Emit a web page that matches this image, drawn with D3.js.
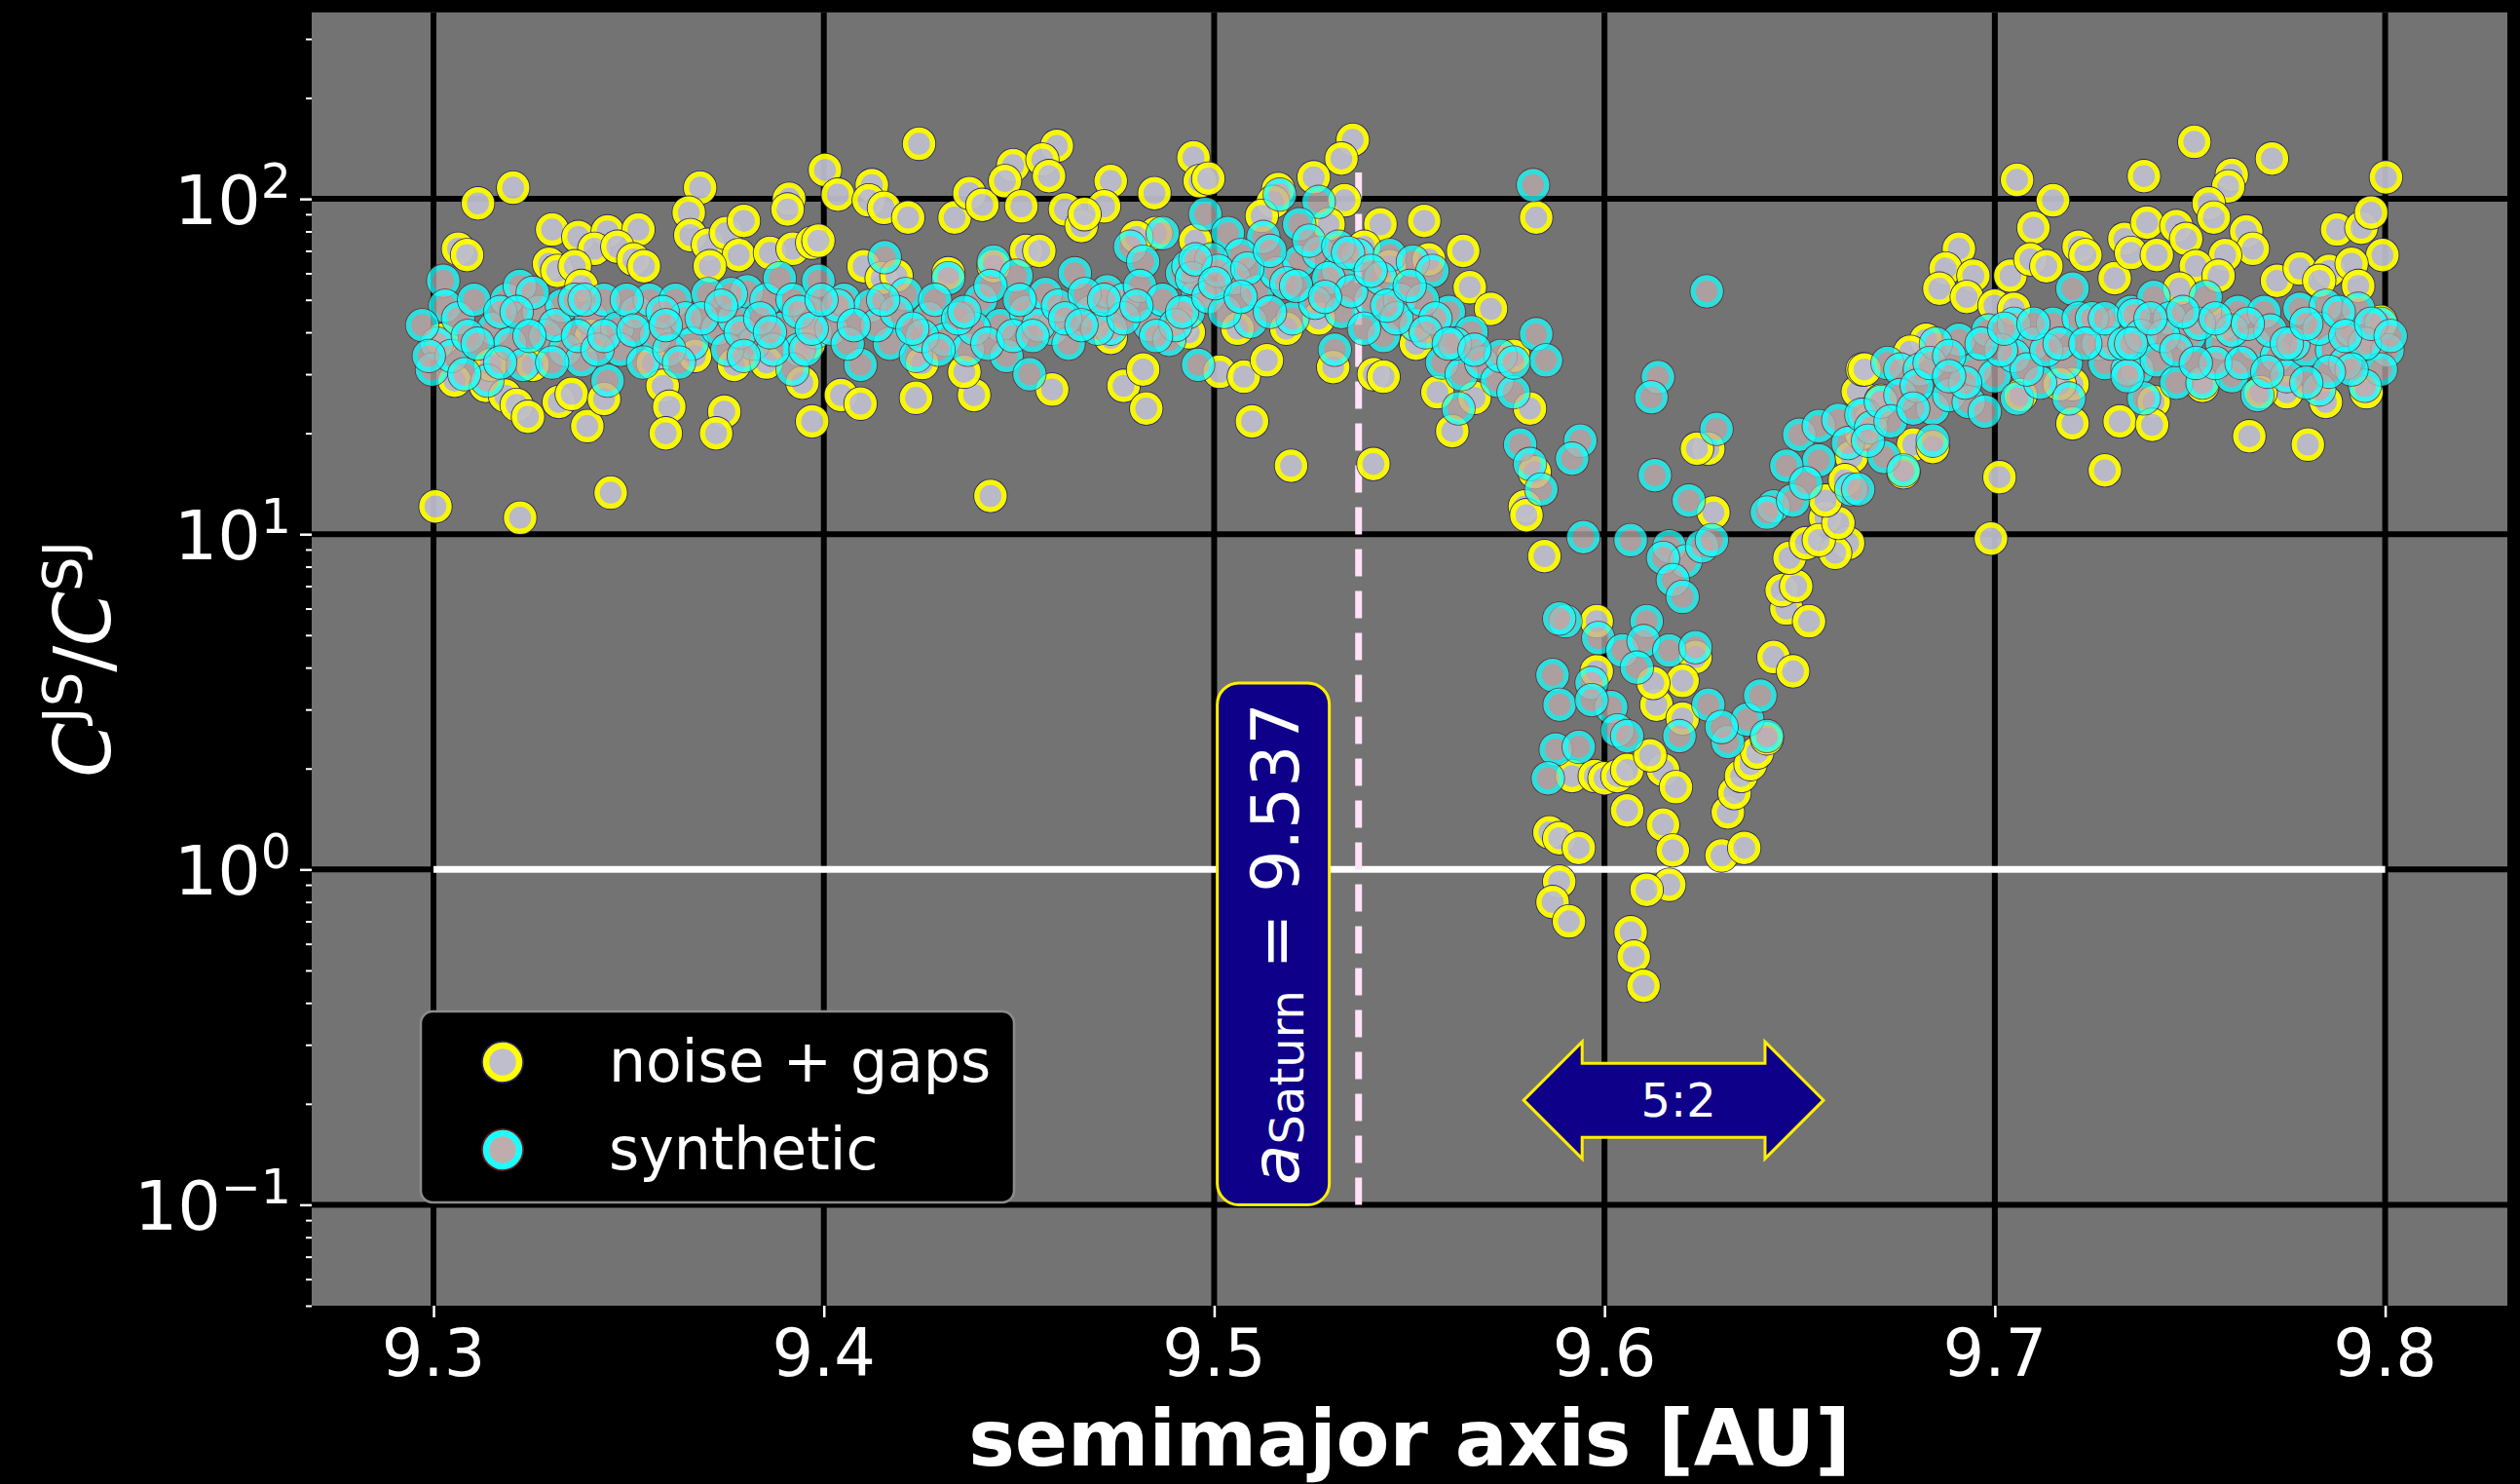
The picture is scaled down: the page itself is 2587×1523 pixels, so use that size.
<!DOCTYPE html>
<html>
<head>
<meta charset="utf-8">
<script src="https://cdn.jsdelivr.net/npm/d3@7"></script>
<style>
  html, body { margin: 0; padding: 0; background: #000; }
  svg { display: block; }
  text { font-family: "DejaVu Sans", sans-serif; fill: #fff; }
</style>
</head>
<body>
<svg id="chart" width="2587" height="1523"></svg>
<script>
// ---- data: [semimajor axis (AU), C_JS / C_SJ] ----
const noiseGapsInner = [
  [9.3204,108],[9.3114,97],[9.3063,71],[9.3086,68],[9.3304,81],[9.3371,77],[9.3446,80],[9.3525,81],[9.3412,71],[9.3471,72],
  [9.3296,64],[9.3317,61],[9.3362,63],[9.3379,55],[9.3512,66],[9.3539,63],[9.3683,108],[9.3654,91],[9.3658,78],[9.3703,73],
  [9.3749,79],[9.3795,86],[9.3782,68],[9.3708,63],[9.3911,100],[9.3907,93],[9.3862,69],[9.392,71],[9.397,74],[9.3054,28.7],
  [9.3134,27.7],[9.3183,25.9],[9.3213,24.3],[9.3242,22.4],[9.3321,24.8],[9.3354,26.2],[9.3394,21],[9.3437,25.3],[9.3562,32.4],[9.3587,27.7],
  [9.3604,24],[9.3595,20],[9.3745,23.2],[9.3724,20],[9.3945,28.3],[9.397,21.7],[9.3005,12.1],[9.3222,11.2],[9.3454,13.3],[9.3021,38],
  [9.3146,32],[9.3254,32],[9.3404,39],[9.377,32],[9.3853,32.5],[9.367,34],[9.3961,37],
  [9.4244,146],[9.4003,122],[9.4036,103],[9.4123,110],[9.4115,99],[9.4154,94],[9.4216,88],[9.3986,75],[9.4102,63],[9.4148,58],
  [9.4335,88],[9.4373,104],[9.4406,96],[9.4485,126],[9.4464,113],[9.4506,95],[9.4597,144],[9.456,131],[9.4577,117],[9.4735,113],
  [9.4718,95],[9.4618,93],[9.466,83],[9.4668,90],[9.4847,104],[9.4947,133],[9.4963,113],[9.4518,70],[9.4552,70],[9.4851,79],
  [9.4801,77],[9.4918,42],[9.4044,26],[9.4094,24.5],[9.4236,25.5],[9.4385,26],[9.436,30.5],[9.4585,27],[9.4768,27.7],[9.4818,31],
  [9.4826,23.7],[9.4427,13],[9.4252,32.4],[9.4319,60],[9.4186,59],[9.4735,38.5],[9.4435,63],
  [9.4985,115],[9.5355,150],[9.5326,132],[9.5255,116],[9.5164,107],[9.5151,98],[9.5334,99],[9.5122,89],[9.5293,84],[9.5426,84],
  [9.5538,86],[9.5638,70],[9.5825,88],[9.5384,72],[9.545,63],[9.555,66],[9.5655,54.5],[9.5709,47],[9.5767,34],[9.5809,23.7],
  [9.5821,15.3],[9.5796,12.1],[9.5846,8.6],[9.4952,75],[9.4935,40],[9.5014,30.5],[9.5076,29.5],[9.5135,33],[9.5097,21.7],[9.5197,16],
  [9.5305,31.5],[9.5409,30],[9.5434,29.5],[9.5408,16.2],[9.5572,26.5],[9.561,20.3],[9.506,41],[9.5185,41],[9.5268,44],[9.5517,37],
  [9.5667,25.5]
];
const noiseGapsResonance = [
  [9.58,11.4],[9.598,5.5],[9.598,3.9],[9.6266,18],[9.6279,11.6],[9.6233,4.3],[9.62,3.65],[9.6133,3.1],[9.62,2.82],[9.615,1.98],
  [9.6183,1.76],[9.6058,1.5],[9.615,1.36],[9.6175,1.14],[9.6166,0.9],[9.6108,0.87],[9.6067,0.65],[9.6075,0.55],[9.61,0.45],[9.5859,1.29],
  [9.5884,1.24],[9.5934,1.16],[9.5884,0.92],[9.5867,0.8],[9.5909,0.7],[9.5917,1.9],[9.5975,1.9],[9.6,1.87],[9.6033,1.9],[9.6058,1.98],
  [9.6117,2.19],[9.6125,3.6],[9.63,1.1],[9.6358,1.16],[9.6316,1.48],[9.6333,1.69],[9.635,1.9],[9.6374,2.06],[9.6391,2.23],[9.6416,2.46],
  [9.6433,4.3],[9.6483,3.9],[9.6466,6],[9.6524,5.5],[9.6454,6.8],[9.6491,7],[9.6474,8.5],[9.6516,9.4],[9.6566,11.2],[9.6624,9.4],
  [9.6591,8.8],[9.6549,9.6],[9.6649,26.6],[9.6661,31],[9.6599,10.8],[9.6566,12.6],[9.6237,18],[9.6633,17],[9.6616,14.5],[9.6683,22],
  [9.6708,25],[9.6658,20]
];
const noiseGapsOuter = [
  [9.7057,114],[9.7149,99],[9.7099,82],[9.6908,71],[9.6874,62],[9.6945,59],[9.6858,54],[9.6928,51],[9.6999,48],[9.704,59],
  [9.7049,47],[9.7091,66],[9.7132,63],[9.7215,72],[9.7232,68],[9.7307,58],[9.7332,76],[9.6824,38],[9.6783,35],[9.6666,31],
  [9.7199,28],[9.7199,21.4],[9.732,21.7],[9.7012,14.8],[9.7282,15.5],[9.699,9.7],[9.6791,18.5],[9.6841,18.2],[9.6766,15.3],[9.7066,26],
  [9.7166,28],
  [9.7511,148],[9.7382,117],[9.771,132],[9.7607,118],[9.7598,109],[9.8002,116],[9.7548,97],[9.7561,88],[9.739,85],[9.7465,83],
  [9.749,76],[9.7644,80],[9.7661,71],[9.759,68],[9.7877,81],[9.7939,82],[9.7964,91],[9.7993,68],[9.7349,69],[9.7415,68],
  [9.7515,63],[9.7573,59],[9.7473,54],[9.7723,57],[9.7781,62],[9.7856,61],[9.7914,64],[9.7931,55],[9.7831,57],[9.7989,43],
  [9.7407,24.8],[9.7403,21.2],[9.7652,19.6],[9.7802,18.5],[9.7848,24.8],[9.7952,26.5],[9.7532,27.7],[9.7748,26.5],[9.7681,26.5],[9.7582,42.4]
];

const syntheticInner = [
  [9.3025,57],[9.303,48],[9.3009,37],[9.2996,31],[9.3046,34],[9.3063,44],[9.3104,50],[9.3138,28.7],[9.3154,41],[9.3188,50],
  [9.3221,55],[9.3196,37],[9.3229,32],[9.327,46],[9.3287,39],[9.3329,48],[9.3337,35.5],[9.3379,33],[9.3404,44],[9.3437,50],
  [9.3471,41],[9.3446,28.7],[9.3479,35.5],[9.352,46],[9.3554,50],[9.357,39],[9.362,50],[9.3645,44],[9.3662,37],[9.3703,52],
  [9.3728,41],[9.377,44],[9.3803,53],[9.382,37],[9.3853,50],[9.3887,58],[9.3895,41],[9.3936,35.5],[9.3961,46],[9.392,31],
  [9.3088,39],[9.3312,42],[9.337,39],[9.3587,46],[9.3753,35.5],[9.3787,40],
  [9.3079,30],[9.3171,46],[9.3254,52.5],[9.3304,32.5],[9.3362,50],[9.342,35.5],[9.3495,50],[9.3537,32.5],[9.3604,35.5],[9.3687,44],
  [9.3762,52],[9.3837,44],[9.387,35.5],[9.392,50],[9.3978,40],
  [9.2971,42],[9.3113,37],[9.3213,46],[9.3246,39],[9.3387,50],[9.3437,39],[9.3512,40.5],[9.3595,42],[9.3629,32.5],[9.3737,48],
  [9.3795,34],[9.3862,40],[9.3936,46],[9.2988,34],[9.3171,32.5],
  [9.4156,67],[9.3986,57],[9.3953,35.5],[9.4019,41],[9.4052,50],[9.4094,32],[9.4061,37],[9.4119,48],[9.4169,37],[9.421,52],
  [9.4236,34],[9.4269,44],[9.4319,58],[9.431,38],[9.4369,35.5],[9.4402,50],[9.4435,65],[9.4452,42],[9.4468,34],[9.4518,46],
  [9.4493,59],[9.4527,30],[9.4568,52],[9.4585,41],[9.4627,37],[9.4643,60],[9.4685,46],[9.4726,53],[9.4768,50],[9.4785,72],
  [9.4818,65],[9.4868,79],[9.4835,42],[9.4885,38],[9.4918,60],[9.4959,52],[9.4959,32],[9.4934,46],[9.4735,41],[9.4385,41],
  [9.3969,41],[9.4036,48],[9.4136,42],[9.4186,46],[9.4252,39],[9.4285,50],[9.4344,44],[9.4419,37],[9.4485,39],[9.455,42],
  [9.46,48],[9.4668,52],[9.4701,41],[9.4768,44],[9.481,55],[9.4868,50],[9.4901,42],[9.4934,63],
  [9.3994,50],[9.4077,42],[9.4152,50],[9.4227,41],[9.4294,35.5],[9.436,46],[9.4427,55],[9.4502,50],[9.4535,39],[9.4618,44],
  [9.466,42],[9.4718,50],[9.4801,48],[9.4851,39],[9.4918,46],[9.4959,65],
  [9.4977,90],[9.5168,103],[9.5268,98],[9.5218,84],[9.5126,77],[9.5035,79],[9.5068,68],[9.4993,66],[9.4943,58],[9.4985,51],
  [9.5051,58],[9.511,53],[9.516,60],[9.5218,65],[9.5268,69],[9.5318,61],[9.5368,68],[9.5293,58],[9.5201,44],[9.5093,43],
  [9.5027,46],[9.5259,49],[9.5326,46],[9.5401,50],[9.545,68],[9.5509,65],[9.5559,61],[9.5476,50],[9.5434,39],[9.5517,42],
  [9.5601,46],[9.5659,40],[9.5584,32.5],[9.5634,30],[9.5684,32.5],[9.5725,28.7],[9.5767,26.5],[9.5825,39.5],[9.585,33],[9.5784,18.5],
  [9.5809,16.2],[9.5838,13.6],[9.5309,35.5],[9.5626,23.7],[9.5384,41],
  [9.501,61],[9.5085,62],[9.5143,70],[9.5185,56],[9.5243,75],[9.5318,72],[9.5351,53],[9.5426,58],[9.5467,44],[9.5534,50],
  [9.5567,44],[9.5617,37],[9.5734,34],[9.5767,32.5],
  [9.4952,66],[9.5002,56],[9.5068,51],[9.5143,46],[9.521,55],[9.5284,51],[9.5343,69],[9.5401,61],[9.5443,48],[9.5501,55],
  [9.5542,40],[9.5601,37],[9.5667,35.5]
];
const syntheticResonance = [
  [9.5817,110],[9.5938,19],[9.5917,16.8],[9.5946,9.8],
  [9.6067,9.6],[9.6262,53],[9.6137,29.4],[9.612,25.6],[9.6287,20.6],[9.6129,15],[9.6216,12.6],[9.6166,9.2],[9.6208,8.3],[9.625,9.2],
  [9.6275,9.6],[9.615,8.5],[9.6175,7.3],[9.62,6.5],[9.59,5.5],[9.5884,5.6],[9.6108,5.5],[9.5984,4.9],[9.6046,4.5],[9.61,4.8],
  [9.6166,4.5],[9.6233,4.6],[9.5867,3.8],[9.5967,3.6],[9.6083,4],[9.6017,3.05],[9.5885,3.1],[9.5967,3.2],[9.6033,2.6],[9.5875,2.28],
  [9.5934,2.32],[9.6058,2.5],[9.5855,1.87],[9.6192,2.5],[9.6266,3.1],[9.6316,2.4],[9.6366,2.8],[9.6399,3.3],[9.6416,2.5],[9.63,2.66],
  [9.6499,19.8],[9.6549,21],[9.6549,16.6],[9.6466,16],[9.6433,12.1],[9.6416,11.6],[9.6483,12.6],[9.6599,21.9],[9.6632,13.6],[9.6666,22.7],
  [9.6624,18.7],[9.6516,14.2]
];
const syntheticOuter = [
  [9.6725,32.4],[9.6758,31],[9.6808,31],[9.6908,38],[9.6983,40.5],[9.7049,42.4],[9.7099,37],[9.7149,42.4],[9.7199,54],[9.7215,44],
  [9.7265,37],[9.7315,42.4],[9.7348,46],[9.7365,31],[9.6658,22.7],[9.6683,20.8],[9.6716,17],[9.6766,15.5],[9.665,13.6],[9.6708,24.8],
  [9.6758,26],[9.6841,23.7],[9.6883,26],[9.6933,24.8],[9.6974,23.2],[9.6949,31],[9.6999,29.6],[9.7049,34],[9.7057,25.4],[9.7116,28.3],
  [9.7182,32.4],[9.719,25.4],[9.7282,32.4],[9.734,31],[9.6849,37],[9.68,27.7],[9.6675,19],[9.6841,19],
  [9.7082,31],[9.7132,35.4],[9.7249,44],[9.7299,37],[9.7016,35.4],[9.6924,28.3],
  [9.6833,32.4],[9.6883,34],[9.6966,37],[9.7024,41],[9.7099,42.4],[9.7166,37],[9.7232,37],[9.7282,44],[9.7332,37],[9.6883,29.6],
  [9.6733,21.7],[9.6791,23.7],
  [9.7407,51],[9.754,51],[9.7357,45],[9.7448,44],[9.7498,39],[9.7374,39],[9.7415,33],[9.7465,28.3],[9.7382,25.4],[9.7532,28.3],
  [9.7607,29.6],[9.7582,37],[9.7623,46],[9.7665,37],[9.769,46],[9.7723,34],[9.7673,26],[9.7748,29.6],[9.7781,47],[9.7798,35.4],
  [9.7831,27],[9.7848,48],[9.7864,35.4],[9.7914,40.5],[9.7931,47],[9.7964,37],[9.7989,42.4],[9.8006,35.4],[9.7989,31],[9.7948,27.7],
  [9.7898,32.4],[9.734,29.6],[9.7523,42.4],[9.7607,40.5],
  [9.7432,39],[9.7482,46],[9.7565,32.4],[9.7632,32.4],[9.7706,40.5],[9.7765,37],[9.7831,41],[9.7881,46],[9.7948,37],[9.7914,31],
  [9.7349,37],[9.7399,44],[9.7465,35.4],[9.7515,32.4],[9.7565,44],[9.7648,42.4],[9.7698,30.5],[9.7748,37],[9.7798,42.4],[9.7856,30.5],
  [9.7898,39],[9.7964,42.4],[9.8014,39],[9.7798,28.3]
];

const xTicks = [9.3, 9.4, 9.5, 9.6, 9.7, 9.8];
const xTickLabels = ["9.3", "9.4", "9.5", "9.6", "9.7", "9.8"];
const yTicks = [0.1, 1, 10, 100];
const yTickExponents = ["\u22121", "0", "1", "2"];
const seriesNames = ["noise + gaps", "synthetic"];
const aSaturn = 9.537;
const resonanceSpan = [9.5793, 9.6561];
const resonanceLabel = "5:2";

// ---- layout ----
const W = 2587, H = 1523;
const plot = { left: 320, right: 2574, top: 12.7, bottom: 1340 };

const svg = d3.select("#chart");
svg.append("rect").attr("width", W).attr("height", H).attr("fill", "#000");

const x = d3.scaleLinear().domain([9.2688, 9.8313]).range([plot.left, plot.right]);
const y = d3.scaleLog().domain([0.05, 360]).range([plot.bottom, plot.top]);

// plot background
svg.append("rect")
  .attr("x", plot.left).attr("y", plot.top)
  .attr("width", plot.right - plot.left).attr("height", plot.bottom - plot.top)
  .attr("fill", "#737373");

// grid
const grid = svg.append("g");
grid.selectAll("line.gx").data(xTicks).join("line")
  .attr("x1", d => x(d)).attr("x2", d => x(d))
  .attr("y1", plot.top).attr("y2", plot.bottom)
  .attr("stroke", "#000").attr("stroke-width", 6);
grid.selectAll("line.gy").data(yTicks).join("line")
  .attr("x1", plot.left).attr("x2", plot.right)
  .attr("y1", d => y(d)).attr("y2", d => y(d))
  .attr("stroke", "#000").attr("stroke-width", 6);

// axes (tick marks; labels drawn separately)
const xAxis = d3.axisBottom(x).tickValues(xTicks).tickSize(12).tickFormat("");
const gx = svg.append("g").attr("transform", `translate(0,${plot.bottom})`).call(xAxis);
gx.select(".domain").remove();
gx.selectAll(".tick line").attr("stroke", "#fff").attr("stroke-width", 2.5);

const yMinor = [];
for (let e = -2; e <= 2; e++) for (let m = 2; m <= 9; m++) {
  const v = m * Math.pow(10, e);
  if (v >= 0.05 && v <= 360) yMinor.push(v);
}
const gyMinor = svg.append("g").attr("transform", `translate(${plot.left},0)`)
  .call(d3.axisLeft(y).tickValues(yMinor).tickSize(6).tickFormat(""));
gyMinor.select(".domain").remove();
gyMinor.selectAll(".tick line").attr("stroke", "#fff").attr("stroke-width", 2);
const gyMajor = svg.append("g").attr("transform", `translate(${plot.left},0)`)
  .call(d3.axisLeft(y).tickValues(yTicks).tickSize(12).tickFormat(""));
gyMajor.select(".domain").remove();
gyMajor.selectAll(".tick line").attr("stroke", "#fff").attr("stroke-width", 2.5);

// tick labels
svg.append("g").selectAll("text").data(xTicks).join("text")
  .attr("x", d => x(d)).attr("y", 1412)
  .attr("text-anchor", "middle").attr("font-size", 67)
  .text((d, i) => xTickLabels[i]);

const yl = svg.append("g").selectAll("text").data(yTicks).join("text")
  .attr("x", 299).attr("y", d => y(d) + 26)
  .attr("text-anchor", "end").attr("font-size", 70);
yl.append("tspan").text("10");
yl.append("tspan").attr("dy", -27).attr("font-size", 49).text((d, i) => yTickExponents[i]);

// axis titles
svg.append("text")
  .attr("x", (plot.left + plot.right) / 2).attr("y", 1504)
  .attr("text-anchor", "middle").attr("font-size", 80).attr("font-weight", "bold")
  .text("semimajor axis [AU]");

const ylab = svg.append("text")
  .attr("transform", `translate(113,${(plot.top + plot.bottom) / 2}) rotate(-90)`)
  .attr("text-anchor", "middle").attr("font-size", 80);
ylab.append("tspan").attr("font-style", "italic").text("C");
ylab.append("tspan").attr("dy", -30).attr("font-size", 56).text("JS");
ylab.append("tspan").attr("dy", 30).text("/");
ylab.append("tspan").attr("font-style", "italic").text("C");
ylab.append("tspan").attr("dy", -30).attr("font-size", 56).text("SJ");

// reference line C = 1
svg.append("line")
  .attr("x1", x(9.3)).attr("x2", x(9.8))
  .attr("y1", y(1)).attr("y2", y(1))
  .attr("stroke", "#fff").attr("stroke-width", 7);

// Saturn's semimajor axis
svg.append("line")
  .attr("x1", x(aSaturn)).attr("x2", x(aSaturn))
  .attr("y1", y(0.1)).attr("y2", y(120))
  .attr("stroke", "#ffe2f6").attr("stroke-width", 7)
  .attr("stroke-dasharray", "28,15");

// markers
const R = 14;
function drawSeries(data, style) {
  const g = svg.append("g");
  const pts = g.selectAll("g").data(data).join("g")
    .attr("transform", d => `translate(${x(d[0])},${y(d[1])})`)
    .attr("opacity", style.opacity);
  pts.append("circle").attr("r", R + 3.6).attr("fill", style.rim);
  pts.append("circle").attr("r", R).attr("fill", style.fill)
    .attr("stroke", style.edge).attr("stroke-width", 5.5);
}
const yellowStyle = { fill: "#bebecd", edge: "#ffff00", rim: "#20206a", opacity: 0.94 };
const cyanStyle = { fill: "#bfadad", edge: "#1cffff", rim: "#6a1818", opacity: 0.76 };
drawSeries([...noiseGapsInner, ...noiseGapsResonance, ...noiseGapsOuter], yellowStyle);
drawSeries([...syntheticInner, ...syntheticResonance, ...syntheticOuter], cyanStyle);

// a_Saturn label box
const bx0 = x(9.5008), bx1 = x(9.5295), by0 = y(3.6), by1 = y(0.1);
svg.append("rect")
  .attr("x", bx0).attr("y", by0).attr("width", bx1 - bx0).attr("height", by1 - by0)
  .attr("rx", 22).attr("fill", "#0e0088").attr("stroke", "#ffee00").attr("stroke-width", 3);
const st = svg.append("text")
  .attr("transform", `translate(${(bx0 + bx1) / 2 + 2},${(by0 + by1) / 2}) rotate(-90)`)
  .attr("text-anchor", "middle").attr("dominant-baseline", "central").attr("font-size", 68);
st.append("tspan").attr("font-style", "italic").text("a");
st.append("tspan").attr("font-size", 48).attr("dy", 12).text("Saturn");
st.append("tspan").attr("dy", -12).text(" = " + aSaturn.toFixed(3));

// 5:2 resonance double arrow
const xl = x(resonanceSpan[0]), xr = x(resonanceSpan[1]), yc = y(0.205);
const head = 60, body = 38, headH = 60;
const arrowPts = [
  [xl, yc], [xl + head, yc - headH], [xl + head, yc - body], [xr - head, yc - body], [xr - head, yc - headH],
  [xr, yc], [xr - head, yc + headH], [xr - head, yc + body], [xl + head, yc + body], [xl + head, yc + headH]
];
svg.append("polygon")
  .attr("points", arrowPts.map(p => p.join(",")).join(" "))
  .attr("fill", "#0e0088").attr("stroke", "#ffee00").attr("stroke-width", 3).attr("stroke-linejoin", "miter");
svg.append("text")
  .attr("x", (xl + xr) / 2 + 5).attr("y", yc).attr("dominant-baseline", "central")
  .attr("text-anchor", "middle").attr("font-size", 48).text(resonanceLabel);

// legend
const lg = svg.append("g");
lg.append("rect").attr("x", 432).attr("y", 1038).attr("width", 609).attr("height", 196)
  .attr("rx", 12).attr("fill", "#000").attr("stroke", "#8c8c8c").attr("stroke-width", 2.5);
const legendStyles = [yellowStyle, cyanStyle];
seriesNames.forEach((name, i) => {
  const cy = 1090 + i * 90;
  const s = legendStyles[i];
  const m = lg.append("g").attr("transform", `translate(516,${cy})`);
  m.append("circle").attr("r", 22).attr("fill", s.rim);
  m.append("circle").attr("r", 17).attr("fill", s.fill).attr("stroke", s.edge).attr("stroke-width", 6.5);
  lg.append("text").attr("x", 625).attr("y", cy + 20).attr("font-size", 60).text(name);
});
</script>
</body>
</html>
